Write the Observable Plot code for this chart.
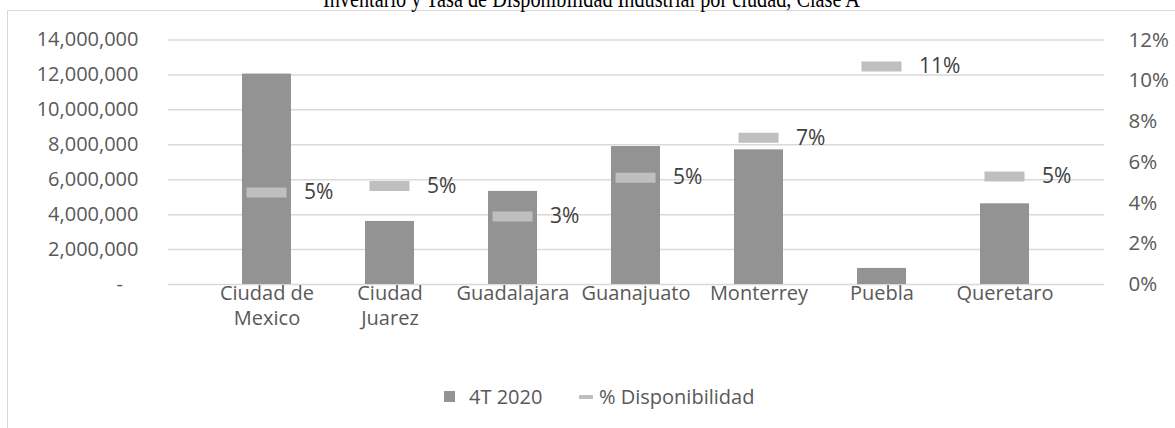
<!DOCTYPE html>
<html>
<head>
<meta charset="utf-8">
<script src="https://cdn.jsdelivr.net/npm/d3@7"></script>
<script src="https://cdn.jsdelivr.net/npm/@observablehq/plot@0.6"></script>
<style>
  html, body { margin: 0; padding: 0; background: #fff; width: 1175px; height: 428px; overflow: hidden; position: relative; }
  #frame { position: absolute; left: 7px; top: 10px; width: 1400px; height: 700px; border: 1.5px solid #d9d9d9; box-sizing: border-box; }
  #title { position: absolute; left: 0; width: 1175px; text-align: center; top: -14px; font-family: "Liberation Serif", serif; font-size: 25px; line-height: 25px; color: #000; white-space: nowrap; }
  #title span { display: inline-block; transform: scaleX(0.81); transform-origin: center; margin-left: 8px; }
  #chart { position: absolute; left: 0; top: 0; }
  #legend { position: absolute; left: 0; top: 383px; width: 1175px; font-family: "Open Sans", sans-serif; font-size: 20px; color: #595959; }
  .sw { position: absolute; }
</style>
</head>
<body>
<div id="frame"></div>
<div id="title"><span>Inventario y Tasa de Disponibilidad Industrial por ciudad, Clase A</span></div>
<div id="chart"></div>
<div id="legend"></div>
<script>
const cities = ["Ciudad de\nMexico", "Ciudad\nJuarez", "Guadalajara", "Guanajuato", "Monterrey", "Puebla", "Queretaro"];
const inventory = [12050000, 3610000, 5330000, 7900000, 7710000, 920000, 4620000];
const availability = [0.0452, 0.0483, 0.0334, 0.0524, 0.072, 0.107, 0.053];
const leftTicks = [0, 2000000, 4000000, 6000000, 8000000, 10000000, 12000000, 14000000];
const rightTicks = [0, 0.02, 0.04, 0.06, 0.08, 0.10, 0.12];
const seriesNames = ["4T 2020", "% Disponibilidad"];

const leftMax = 14000000, rightMax = 0.12;
const k = leftMax / rightMax;
const data = cities.map((c, i) => ({city: c, inv: inventory[i], pct: availability[i]}));
const pctFmt = d3.format(".0%");

const chart = Plot.plot({
  width: 1175,
  height: 345,
  marginLeft: 168,
  marginRight: 71,
  marginTop: 39.5,
  marginBottom: 61,
  style: {fontFamily: "Open Sans", fontSize: "20px", color: "#595959", background: "transparent", overflow: "visible"},
  x: {domain: cities, padding: 0.6, label: null},
  y: {domain: [0, leftMax], label: null},
  marks: [
    Plot.gridY(leftTicks, {stroke: "#d9d9d9", strokeOpacity: 1, strokeWidth: 1.5}),
    Plot.barY(data, {x: "city", y: "inv", fill: "#939393"}),
    Plot.tickY(data, {x: "city", y: d => d.pct * k, stroke: "#bfbfbf", strokeWidth: 10, insetLeft: 4.5, insetRight: 4.5}),
    Plot.text(data, {x: "city", y: d => d.pct * k, text: d => pctFmt(d.pct), dx: 37, textAnchor: "start", fill: "#404040", fontSize: 21}),
    Plot.axisY(leftTicks, {anchor: "left", tickSize: 0, tickPadding: 30, fontSize: 20, tickFormat: d => d === 0 ? "-\u00a0\u00a0\u00a0" : d3.format(",")(d), label: null}),
    Plot.axisY(rightTicks.map(p => p * k), {anchor: "right", tickSize: 0, tickPadding: 24, fontSize: 20.5, tickFormat: d => pctFmt(d / k), label: null}),
    Plot.axisX({tickSize: 0, tickPadding: -3, lineHeight: 1.27, fontSize: 20, label: null})
  ]
});
document.getElementById("chart").appendChild(chart);

const legend = document.getElementById("legend");
legend.innerHTML = `
  <div class="sw" style="left:444px;top:8px;width:11px;height:11px;background:#939393"></div>
  <div class="sw" style="left:469px;top:0px;">${seriesNames[0]}</div>
  <div class="sw" style="left:579px;top:12px;width:14px;height:4px;background:#bfbfbf"></div>
  <div class="sw" style="left:599px;top:0px;">${seriesNames[1]}</div>
`;
</script>
</body>
</html>
